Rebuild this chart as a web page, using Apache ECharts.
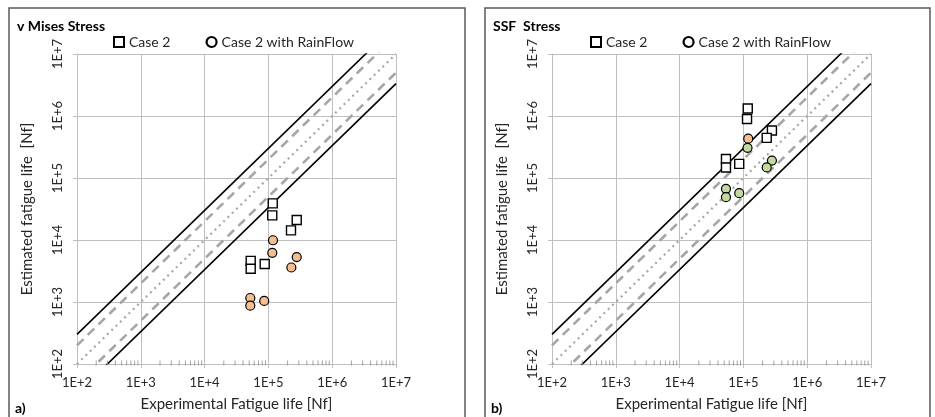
<!DOCTYPE html>
<html>
<head>
<meta charset="utf-8">
<script src="https://cdn.jsdelivr.net/npm/echarts@6/dist/echarts.min.js"></script>
<style>
  html, body { margin: 0; padding: 0; background: #fff; }
  #chart { width: 935px; height: 417px; }
</style>
</head>
<body>
<div id="chart"></div>
<script>
// tick labels on both log axes
const decadeLabels = ['1E+2', '1E+3', '1E+4', '1E+5', '1E+6', '1E+7'];
const minorSteps = [2, 3, 4, 5, 6, 7, 8, 9];

// scatter band factors: 1:1 line, factor 2 and factor 3
const bandFactors = { solid: [1 / 3, 3], dashed: [1 / 2, 2], dotted: [1] };

// a) v Mises stress
const misesCaseX = [1.17e5, 1.15e5, 2.78e5, 2.26e5, 5.28e4, 5.28e4, 8.75e4];
const misesCaseY = [3.9e4, 2.5e4, 2.1e4, 1.43e4, 4.6e3, 3.43e3, 4.1e3];
const misesRainX = [1.18e5, 1.15e5, 2.78e5, 2.29e5, 5.2e4, 5.2e4, 8.6e4];
const misesRainY = [9.9e3, 6.2e3, 5.3e3, 3.6e3, 1.16e3, 873, 1.04e3];

// b) SSF stress
const ssfCaseX = [1.17e5, 1.14e5, 2.8e5, 2.32e5, 5.33e4, 5.33e4, 8.6e4];
const ssfCaseY = [1.32e6, 8.95e5, 5.85e5, 4.43e5, 2.03e5, 1.48e5, 1.69e5];
const ssfRainX = [1.19e5, 1.16e5, 2.8e5, 2.32e5, 5.33e4, 5.33e4, 8.6e4];
const ssfRainY = [4.3e5, 3.07e5, 1.91e5, 1.48e5, 6.7e4, 4.9e4, 5.7e4];
const ssfRainOrange = [true, false, false, false, false, false, false];

const ORANGE = '#F5BE8E';
const GREEN = '#C4D9A0';
const GRIDC = '#BFBFBF';
const FONT = 'Lato';

const zip = (xs, ys) => xs.map((x, i) => [x, ys[i]]);

function logAxis(idx, isY) {
  return {
    type: 'log',
    logBase: 10,
    gridIndex: idx,
    min: 100,
    max: 1e7,
    interval: 1,
    name: isY ? 'Estimated fatigue life  [Nf]' : 'Experimental Fatigue life [Nf]',
    nameLocation: 'middle',
    nameGap: isY ? 42 : 33,
    nameTextStyle: { fontFamily: FONT, fontSize: 15, color: '#262626' },
    axisLine: { show: true, lineStyle: { color: GRIDC, width: 1 } },
    axisTick: { show: true, inside: false, length: 4, lineStyle: { color: GRIDC } },
    splitLine: { show: true, lineStyle: { color: GRIDC, width: 1 } },
    axisLabel: {
      fontFamily: FONT,
      fontSize: 13,
      color: '#262626',
      rotate: isY ? 90 : 0,
      margin: isY ? 13 : 12,
      formatter: v => decadeLabels[Math.round(Math.log10(v)) - 2]
    }
  };
}

function refLines(idx) {
  const out = [];
  const mk = (f, style) => ({
    type: 'line',
    xAxisIndex: idx,
    yAxisIndex: idx,
    data: [[100, 100 * f], [1e7, 1e7 * f]],
    symbol: 'none',
    silent: true,
    clip: true,
    z: 1,
    lineStyle: style
  });
  bandFactors.solid.forEach(f => out.push(mk(f, { color: '#000', width: 1.6, type: 'solid' })));
  bandFactors.dashed.forEach(f => out.push(mk(f, { color: '#A6A6A6', width: 2.6, type: [9, 6] })));
  bandFactors.dotted.forEach(f => out.push(mk(f, { color: '#A6A6A6', width: 2.2, type: [2, 4] })));
  return out;
}

function minorTickSeries(idx) {
  const pts = [];
  for (let d = 2; d < 7; d++) {
    minorSteps.forEach(m => pts.push([m * Math.pow(10, d), 100]));
  }
  return {
    type: 'scatter',
    xAxisIndex: idx,
    yAxisIndex: idx,
    data: pts,
    symbol: 'rect',
    symbolSize: [1, 5],
    symbolOffset: [0, -1],
    silent: true,
    z: 2,
    itemStyle: { color: '#8C8C8C' }
  };
}

function squares(idx, xs, ys) {
  return {
    name: 'Case 2',
    type: 'scatter',
    xAxisIndex: idx,
    yAxisIndex: idx,
    data: zip(xs, ys),
    symbol: 'rect',
    symbolSize: 9,
    z: 5,
    itemStyle: { color: '#fff', borderColor: '#000', borderWidth: 1.4, opacity: 1 }
  };
}

function circles(idx, xs, ys, colorFn) {
  return {
    name: 'Case 2 with RainFlow',
    type: 'scatter',
    xAxisIndex: idx,
    yAxisIndex: idx,
    data: zip(xs, ys).map((p, i) => ({ value: p, itemStyle: { color: colorFn(i) } })),
    symbol: 'circle',
    symbolSize: 9,
    z: 6,
    itemStyle: { color: ORANGE, borderColor: '#000', borderWidth: 1.2, opacity: 1 }
  };
}

function legend(left) {
  return {
    left: left,
    top: 35,
    padding: 0,
    itemWidth: 10,
    itemHeight: 10,
    itemGap: 35,
    selectedMode: false,
    textStyle: { fontFamily: FONT, fontSize: 14, color: '#262626' },
    data: [
      { name: 'Case 2', icon: 'rect', itemStyle: { color: '#fff', borderColor: '#000', borderWidth: 2 } },
      { name: 'Case 2 with RainFlow', icon: 'circle', itemStyle: { color: '#fff', borderColor: '#000', borderWidth: 2.2 } }
    ]
  };
}

const chart = echarts.init(document.getElementById('chart'), null, { renderer: 'canvas' });

const boldText = size => ({ fontFamily: FONT, fontSize: size, fontWeight: 'bold', color: '#000' });

chart.setOption({
  backgroundColor: '#fff',
  animation: false,
  title: [
    { text: 'v Mises Stress', left: 17, top: 19, padding: 0, textStyle: boldText(14) },
    { text: 'SSF  Stress', left: 493, top: 19, padding: 0, textStyle: boldText(14) },
    { text: 'a)', left: 15, top: 401, padding: 0, textStyle: boldText(14) },
    { text: 'b)', left: 491, top: 401, padding: 0, textStyle: boldText(14) }
  ],
  legend: [legend(113), legend(590)],
  grid: [
    { left: 77, top: 54, width: 319, height: 315 },
    { left: 552, top: 54, width: 319, height: 315 }
  ],
  xAxis: [logAxis(0, false), logAxis(1, false)],
  yAxis: [logAxis(0, true), logAxis(1, true)],
  graphic: [
    { type: 'rect', shape: { x: 9, y: 8, width: 456, height: 430 }, style: { fill: 'none', stroke: '#595959', lineWidth: 1.5 }, silent: true },
    { type: 'rect', shape: { x: 485, y: 8, width: 445, height: 430 }, style: { fill: 'none', stroke: '#595959', lineWidth: 1.5 }, silent: true }
  ],
  series: [
    ...refLines(0),
    ...refLines(1),
    minorTickSeries(0),
    minorTickSeries(1),
    squares(0, misesCaseX, misesCaseY),
    circles(0, misesRainX, misesRainY, () => ORANGE),
    squares(1, ssfCaseX, ssfCaseY),
    circles(1, ssfRainX, ssfRainY, i => (ssfRainOrange[i] ? ORANGE : GREEN))
  ]
});
</script>
</body>
</html>
